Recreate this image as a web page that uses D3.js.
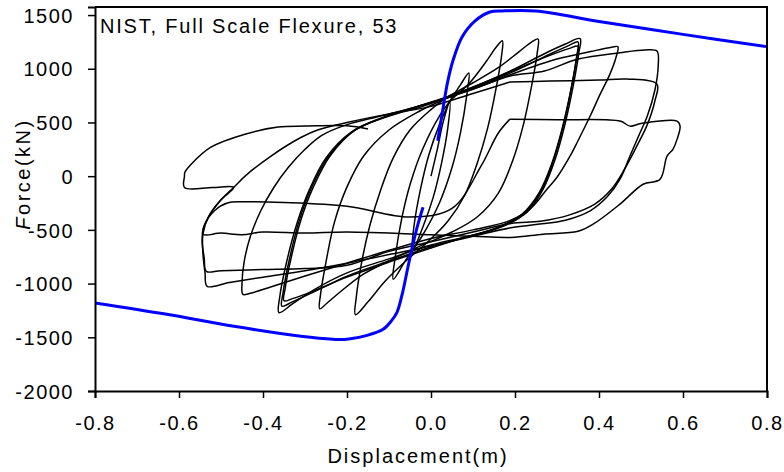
<!DOCTYPE html>
<html>
<head>
<meta charset="utf-8">
<script src="https://cdn.jsdelivr.net/npm/d3@7"></script>
<style>
  body { margin: 0; background: #fff; }
  svg { display: block; font-family: "Liberation Sans", Arial, sans-serif; }
</style>
</head>
<body>
<div id="chart"></div>
<script>
// axis ticks
const xTicks = [-0.8, -0.6, -0.4, -0.2, 0.0, 0.2, 0.4, 0.6, 0.8];
const yTicks = [-2000, -1500, -1000, -500, 0, 500, 1000, 1500];

// blue backbone envelope (displacement m, force kN), negative and positive branches
const backboneNeg = [
  [-0.8, -1180], [-0.629, -1286], [-0.469, -1398], [-0.31, -1491], [-0.233, -1519],
  [-0.2, -1519], [-0.152, -1482], [-0.114, -1426], [-0.095, -1350], [-0.081, -1268],
  [-0.067, -1072], [-0.055, -848], [-0.043, -634], [-0.031, -447], [-0.019, -289]
];
const backbonePos = [
  [0.016, 330], [0.033, 736], [0.04, 885], [0.052, 1072], [0.074, 1296],
  [0.105, 1445], [0.14, 1528], [0.17, 1538], [0.25, 1538], [0.4, 1440], [0.6, 1320],
  [0.8, 1206]
];

// hysteresis cycles
const cycle1 = [
  [0, 0], [0.015, 250], [0.03, 520], [0.045, 690], [0.04, 450], [0.025, 120], [0.005, -200],
  [-0.02, -480], [-0.045, -700], [-0.04, -450], [-0.025, -120], [-0.005, 200], [0.02, 480], [0.045, 700]
];
const cycle2 = [
  [0.045, 700], [0.07, 850], [0.09, 960], [0.085, 750], [0.07, 400], [0.05, 80], [0.02, -250],
  [-0.02, -550], [-0.06, -780], [-0.09, -960], [-0.085, -750], [-0.07, -400], [-0.05, -80],
  [-0.02, 250], [0.02, 560], [0.05, 720]
];
const cycle3 = [
  [0.05, 720], [0.09, 860], [0.13, 1060], [0.155, 1200], [0.17, 1260], [0.168, 1120], [0.155, 820],
  [0.135, 450], [0.11, 120], [0.08, -180], [0.04, -420], [-0.01, -620], [-0.06, -790], [-0.11, -980],
  [-0.15, -1170], [-0.18, -1290], [-0.178, -1130], [-0.165, -800], [-0.145, -450], [-0.12, -130],
  [-0.09, 170], [-0.05, 430], [0, 620], [0.04, 740]
];
const cycle4 = [
  [0.04, 740], [0.1, 870], [0.16, 1010], [0.21, 1160], [0.24, 1250], [0.255, 1277], [0.253, 1150],
  [0.24, 850], [0.22, 480], [0.195, 150], [0.16, -160], [0.11, -380], [0.05, -520], [-0.02, -640],
  [-0.09, -770], [-0.16, -910], [-0.22, -1090], [-0.25, -1190], [-0.265, -1235], [-0.263, -1100],
  [-0.25, -800], [-0.23, -430], [-0.2, -100], [-0.16, 190], [-0.1, 430], [-0.03, 600], [0.04, 730]
];
const cycle5a = [
  [0.04, 730], [0.12, 860], [0.2, 1000], [0.27, 1140], [0.32, 1230], [0.355, 1280], [0.352, 1150],
  [0.34, 870], [0.32, 500], [0.295, 150], [0.267, -120], [0.23, -330], [0.17, -470], [0.1, -550],
  [0, -640], [-0.1, -770], [-0.2, -900], [-0.28, -1060], [-0.33, -1190], [-0.362, -1270],
  [-0.36, -1120], [-0.345, -820], [-0.32, -450], [-0.29, -130], [-0.25, 170], [-0.19, 410],
  [-0.12, 540], [-0.04, 640], [0.04, 730]
];
const cycle5b = [
  [0.04, 730], [0.12, 850], [0.2, 980], [0.28, 1130], [0.33, 1220], [0.35, 1250], [0.347, 1120],
  [0.335, 840], [0.315, 470], [0.29, 130], [0.262, -140], [0.22, -350], [0.16, -480], [0.09, -560],
  [0, -660], [-0.1, -790], [-0.2, -930], [-0.28, -1080], [-0.33, -1170], [-0.355, -1210],
  [-0.352, -1080], [-0.338, -790], [-0.315, -430], [-0.285, -110], [-0.245, 180], [-0.185, 420],
  [-0.11, 550], [-0.03, 650], [0.04, 740]
];
const cycle5c = [
  [0.04, 740], [0.12, 860], [0.2, 990], [0.28, 1120], [0.33, 1190], [0.35, 1210], [0.346, 1080],
  [0.333, 800], [0.312, 440], [0.287, 110], [0.258, -150], [0.215, -360], [0.15, -490], [0.08, -570],
  [0, -670], [-0.1, -800], [-0.2, -940], [-0.28, -1070], [-0.33, -1140], [-0.35, -1160],
  [-0.347, -1040], [-0.333, -760], [-0.31, -410], [-0.28, -100], [-0.24, 190], [-0.18, 430],
  [-0.1, 560], [-0.02, 650], [0.04, 740]
];
const cycle6 = [
  [0.04, 740], [0.12, 840], [0.2, 960], [0.3, 1090], [0.38, 1160], [0.43, 1200], [0.445, 1205],
  [0.44, 1100], [0.426, 950], [0.4, 740], [0.379, 560], [0.35, 330], [0.331, 186], [0.3, -10],
  [0.276, -121], [0.24, -290], [0.19, -410], [0.1, -500], [0, -580], [-0.1, -690], [-0.2, -810],
  [-0.3, -930], [-0.38, -1030], [-0.43, -1090], [-0.448, -1100], [-0.45, -1000], [-0.445, -800],
  [-0.43, -560], [-0.405, -320], [-0.375, -110], [-0.34, 80], [-0.3, 250], [-0.26, 380],
  [-0.2, 480], [-0.12, 560], [-0.04, 640], [0.03, 720]
];
const cycle7 = [
  [0.03, 720], [0.1, 810], [0.188, 932], [0.27, 979], [0.35, 1090], [0.45, 1150], [0.51, 1175],
  [0.538, 1165], [0.541, 1030], [0.533, 800], [0.515, 560], [0.495, 380], [0.475, 200], [0.45, -28],
  [0.42, -190], [0.38, -320], [0.32, -410], [0.25, -450], [0.19, -480], [0.1, -560], [0, -650],
  [-0.1, -730], [-0.2, -810], [-0.3, -880], [-0.4, -940], [-0.48, -990], [-0.533, -1025],
  [-0.538, -900], [-0.543, -720], [-0.543, -540], [-0.53, -380], [-0.5, -220], [-0.47, -105],
  [-0.44, 10], [-0.38, 190], [-0.31, 360], [-0.27, 430], [-0.2, 500], [-0.1, 580], [0, 650],
  [0.1, 770], [0.188, 876]
];
const cycle8 = [
  [0.188, 876], [0.283, 885], [0.4, 895], [0.467, 904], [0.538, 857], [0.533, 700], [0.515, 480],
  [0.49, 280], [0.46, 60], [0.43, -120], [0.39, -260], [0.33, -360], [0.26, -420], [0.19, -440],
  [0.1, -520], [0, -610], [-0.1, -700], [-0.2, -830], [-0.3, -860], [-0.4, -870], [-0.5, -880],
  [-0.535, -886], [-0.54, -760], [-0.545, -600], [-0.54, -460], [-0.515, -320], [-0.485, -250],
  [-0.45, -238], [-0.35, -245], [-0.2, -280], [-0.05, -380], [0.05, -300], [0.12, 100],
  [0.16, 400], [0.188, 531]
];
const cycle9 = [
  [0.188, 531], [0.3, 525], [0.45, 513], [0.474, 466], [0.5, 490], [0.586, 513], [0.593, 466],
  [0.586, 345], [0.576, 250], [0.562, 186], [0.545, -30], [0.505, -75], [0.45, -260], [0.386, -447],
  [0.35, -513], [0.267, -540], [0.19, -570], [0.1, -560], [0, -545], [-0.2, -520], [-0.3, -530],
  [-0.4, -520], [-0.45, -545], [-0.5, -530], [-0.543, -540], [-0.53, -380], [-0.5, -220],
  [-0.47, -105], [-0.52, -105], [-0.587, -105], [-0.587, 0], [-0.586, 37], [-0.571, 112],
  [-0.524, 270], [-0.443, 391], [-0.364, 457], [-0.3, 466], [-0.2, 470], [-0.15, 440]
];
const cycles = [cycle1, cycle2, cycle3, cycle4, cycle5a, cycle5b, cycle5c, cycle6, cycle7, cycle8, cycle9];

const width = 784;
const height = 472;
const margin = { top: 7, right: 17, bottom: 81, left: 95 };

const svg = d3.select('#chart')
  .append('svg')
  .attr('width', width)
  .attr('height', height);

const x = d3.scaleLinear()
  .domain([-0.8, 0.8])
  .range([margin.left, width - margin.right]);
const y = d3.scaleLinear()
  .domain([-2000, 1575])
  .range([height - margin.bottom, margin.top]);

const line = d3.line()
  .x(d => x(d[0]))
  .y(d => y(d[1]))
  .curve(d3.curveCatmullRom.alpha(0.5));

// loops
svg.append('g')
  .selectAll('path')
  .data(cycles)
  .join('path')
  .attr('d', line)
  .attr('fill', 'none')
  .attr('stroke', '#000')
  .attr('stroke-width', 1.5);

// backbone, drawn over the loops
svg.append('g')
  .selectAll('path')
  .data([backboneNeg, backbonePos])
  .join('path')
  .attr('d', line)
  .attr('fill', 'none')
  .attr('stroke', '#0000ff')
  .attr('stroke-width', 3);

// frame top / right
svg.append('path')
  .attr('d', `M${x(-0.8)},${y(1575)}H${x(0.8)}V${y(-2000)}`)
  .attr('fill', 'none')
  .attr('stroke', '#000')
  .attr('stroke-width', 2);

const xAxis = svg.append('g')
  .attr('transform', `translate(0,${y(-2000)})`)
  .call(d3.axisBottom(x).tickValues(xTicks).tickSize(7).tickFormat(d => d.toFixed(1)));
xAxis.selectAll('text').attr('y', 39).attr('dy', 0);

const yAxis = svg.append('g')
  .attr('transform', `translate(${x(-0.8)},0)`)
  .call(d3.axisLeft(y).tickValues(yTicks).tickSize(7).tickFormat(d => String(d)));
yAxis.selectAll('text').attr('x', -21).attr('dy', '0.36em');

svg.selectAll('.domain').attr('stroke-width', 2);
svg.selectAll('.tick line').attr('stroke-width', 1.5);
svg.selectAll('.tick text')
  .attr('fill', '#000')
  .style('font-size', '20px')
  .style('letter-spacing', '1.5px')
  .style('font-family', '"Liberation Sans", Arial, sans-serif');

svg.append('text')
  .attr('x', 100)
  .attr('y', 33)
  .style('font-size', '20px')
  .style('letter-spacing', '1.8px')
  .text('NIST, Full Scale Flexure, 53');

svg.append('text')
  .attr('x', 418)
  .attr('y', 463)
  .attr('text-anchor', 'middle')
  .style('font-size', '20px')
  .style('letter-spacing', '2px')
  .text('Displacement(m)');

const yLabel = svg.append('text')
  .attr('transform', 'translate(30,174) rotate(-90)')
  .attr('text-anchor', 'middle')
  .style('font-size', '20px')
  .style('letter-spacing', '2.5px');
yLabel.append('tspan').style('font-style', 'italic').text('F');
yLabel.append('tspan').text('orce(kN)');
</script>
</body>
</html>
